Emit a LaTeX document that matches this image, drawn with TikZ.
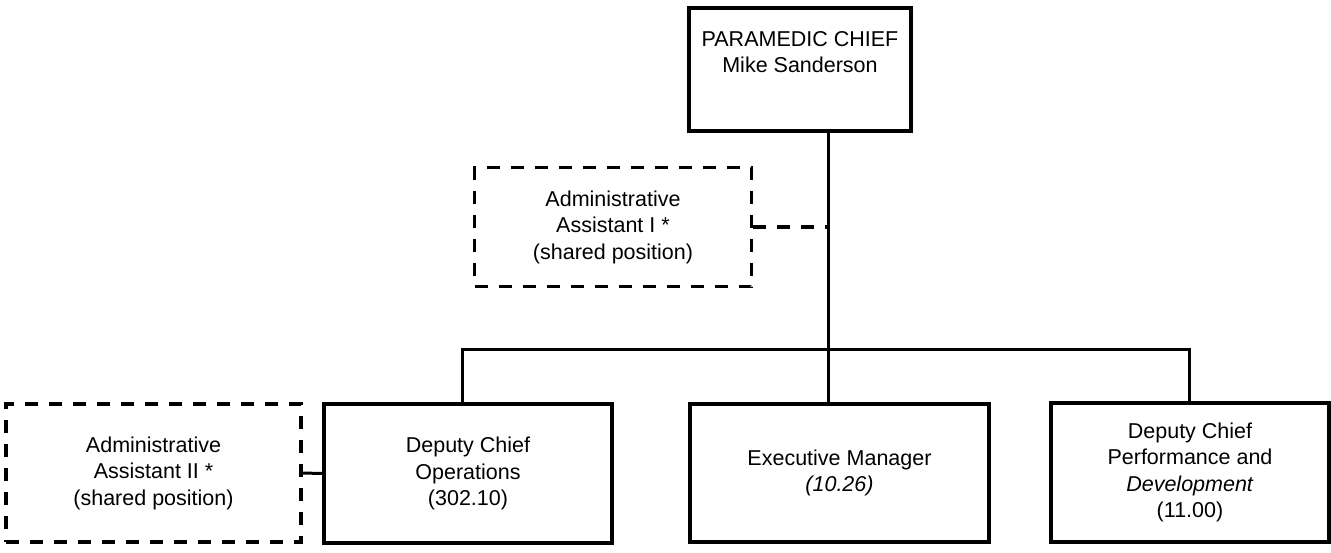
\documentclass[tikz,border=0pt]{standalone}
\usepackage{fontspec}
\setmainfont{Liberation Sans}
\begin{document}
\begin{tikzpicture}[x=1pt,y=-1pt,
  every node/.style={font=\fontsize{21.5}{26.5}\selectfont, align=center, inner sep=0pt},
  post/.style={draw, line width=3.2pt, rectangle},
  shared/.style={draw, line width=3.2pt, rectangle, dash pattern=on 13pt off 11pt},
  link/.style={line width=3pt},
  dashlink/.style={line width=3.2pt, dash pattern=on 13pt off 11pt}]
\useasboundingbox (0,0) rectangle (1331,552);

% boxes
\node[post, minimum width=222pt, minimum height=123pt] (chief) at (800,69.5) {};
\node (chieftext) at (800,52) {PARAMEDIC CHIEF\\Mike Sanderson};

\node[shared, minimum width=277pt, minimum height=119pt] (admin1) at (613,227)
  {Administrative\\Assistant I *\\(shared position)};

\node[shared, minimum width=295pt, minimum height=138pt] (admin2) at (153.5,473)
  {Administrative\\Assistant II *\\(shared position)};

\node[post, minimum width=288pt, minimum height=139pt] (ops) at (468,473.5)
  {Deputy Chief\\Operations\\(302.10)};

\node[post, minimum width=299pt, minimum height=138pt] (exec) at (839.5,473)
  {Executive Manager\\\textit{(10.26)}};

\node[post, minimum width=278pt, minimum height=139pt] (devel) at (1190,472.5)
  {Deputy Chief\\Performance and\\\textit{Development}\\(11.00)};

% connector routing points
\coordinate (trunk) at (828,0);
\coordinate (busL) at (462,349);
\coordinate (busR) at (1189,349);

% reporting lines
\draw[link] (chief.south -| trunk) -- (exec.north -| trunk);
\draw[link] (ops.north -| busL) -- (busL) -- (busR) -- (devel.north -| busR);
\draw[dashlink] (admin1.east) -- (admin1.east -| trunk);
\draw[link] (admin2.east) -- (ops.west);
\end{tikzpicture}
\end{document}
